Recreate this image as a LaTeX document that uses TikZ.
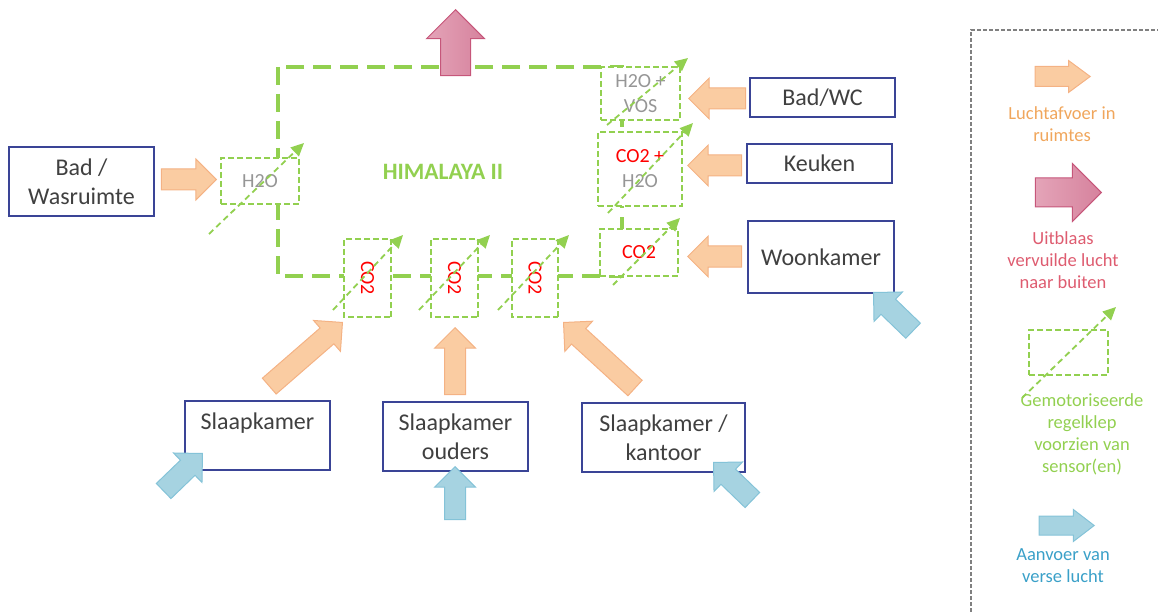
\documentclass[tikz,border=0pt]{standalone}
\usepackage{fontspec}
\setmainfont{Carlito}
\usetikzlibrary{shapes.arrows,arrows.meta}
\definecolor{groen}{RGB}{146,208,80}
\definecolor{kader}{RGB}{58,68,150}
\definecolor{tekst}{RGB}{64,64,64}
\definecolor{grijs}{RGB}{150,150,150}
\definecolor{oranje}{RGB}{250,204,162}
\definecolor{oranjerand}{RGB}{244,178,132}
\definecolor{rozelicht}{RGB}{228,164,184}
\definecolor{roze}{RGB}{214,130,157}
\definecolor{rozerand}{RGB}{198,86,122}
\definecolor{blauw}{RGB}{166,211,225}
\definecolor{blauwrand}{RGB}{132,195,216}
\definecolor{oranjetekst}{RGB}{240,166,92}
\definecolor{rozetekst}{RGB}{222,92,112}
\definecolor{blauwtekst}{RGB}{58,160,200}
\tikzset{room/.style = {draw=kader, line width=1.2pt, fill=white, text=tekst, align=center, inner sep=0, font=\fontsize{24}{29}\selectfont}}
\tikzset{valve/.style = {draw=groen, line width=1.5pt, dash pattern=on 6pt off 3pt, fill=white, align=center, inner sep=0, font=\fontsize{20}{25}\selectfont}}
\tikzset{klep/.style = {draw=groen, line width=1.8pt, dash pattern=on 6pt off 4pt, -{Triangle[length=13pt,width=12pt]}}}
\tikzset{blok/.style = {single arrow, anchor=tip, inner xsep=0, inner ysep=10, single arrow head extend=10, line width=1pt}}
\tikzset{afvoer/.style = {blok, draw=oranjerand, fill=oranje}}
\tikzset{uitblaas/.style = {blok, draw=rozerand, left color=rozelicht, right color=roze}}
\tikzset{aanvoer/.style = {blok, draw=blauwrand, fill=blauw}}
\tikzset{legtxt/.style = {align=center, font=\fontsize{18.5}{22}\selectfont}}
\begin{document}
\begin{tikzpicture}[x=1pt, y=-1pt]
  \useasboundingbox (0,0) rectangle (1158,612);
  \draw [draw=groen, line width=4.5pt, dash pattern=on 18pt off 9pt] (278,67) rectangle (622,276);
  \node [text=groen, font=\fontsize{23.5}{28}\selectfont\bfseries] (naam) at (443,172) {HIMALAYA II};
  \node [valve, minimum width=78, minimum height=46, text=grijs] (vBadWas) at (260,181) {H2O};
  \node [valve, minimum width=79, minimum height=53, text=grijs] (vBadWC) at (640.5,93.5) {H2O +\\VOS};
  \node [valve, minimum width=84, minimum height=74] (vKeuken) at (640,169) {\textcolor{red}{CO2 +}\\\textcolor{grijs}{H2O}};
  \node [valve, minimum width=78, minimum height=47, text=red] (vWoon) at (639,252.5) {CO2};
  \node [valve, rotate=-90, minimum width=78, minimum height=47, text=red] (vS1) at (367.5,278) {CO2};
  \node [valve, rotate=-90, minimum width=78, minimum height=47, text=red] (vS2) at (454.5,278) {CO2};
  \node [valve, rotate=-90, minimum width=78, minimum height=46, text=red] (vS3) at (535,278) {CO2};
  \node [uitblaas, minimum height=66, inner ysep=14.5, single arrow head extend=14, rotate=90] (pUit) at (455.5,9) {};
  \node [room, minimum width=145, minimum height=69] (rBadWas) at (81.5,181.5) {Bad /\\Wasruimte};
  \node [room, minimum width=145, minimum height=39] (rBadWC) at (822.5,97.5) {Bad/WC};
  \node [room, minimum width=145, minimum height=39] (rKeuken) at (819.5,163.5) {Keuken};
  \node [room, minimum width=146, minimum height=72] (rWoon) at (821,257) {Woonkamer};
  \node [room, minimum width=145, minimum height=69] (rS1) at (257.5,435.5) {Slaapkamer\\~};
  \node [room, minimum width=145, minimum height=69] (rS2) at (455.5,436.5) {Slaapkamer\\ouders};
  \node [room, minimum width=163, minimum height=69] (rS3) at (663.5,437.5) {Slaapkamer /\\kantoor};
  \node [afvoer, minimum height=55] (pBadWas) at (217,179.5) {};
  \node [afvoer, minimum height=57, rotate=180] (pBadWC) at (688,98.5) {};
  \node [afvoer, minimum height=54, rotate=180] (pKeuken) at (687,165.5) {};
  \node [afvoer, minimum height=54, rotate=180] (pWoon) at (687,256.5) {};
  \node [afvoer, minimum height=97, rotate=41] (pS1) at (343,322) {};
  \node [afvoer, minimum height=67, rotate=90] (pS2) at (455,327) {};
  \node [afvoer, minimum height=97, rotate=137.5] (pS3) at (563,322) {};
  \node [aanvoer, minimum height=54, rotate=44] (bS1) at (203,453) {};
  \node [aanvoer, minimum height=53, rotate=90] (bS2) at (455,466) {};
  \node [aanvoer, minimum height=54, rotate=136] (bS3) at (713,462) {};
  \node [aanvoer, minimum height=55, rotate=136] (bWoon) at (873,292) {};
  \draw [klep] (209,234) -- (304,143);
  \draw [klep] (607,125) -- (688,58);
  \draw [klep] (608,213) -- (693,123);
  \draw [klep] (613,285) -- (680,218);
  \draw [klep] (333,310) -- (403,235);
  \draw [klep] (419,310) -- (490,235);
  \draw [klep] (498,310) -- (569,235);
  \draw [draw=gray, line width=1.3pt, dash pattern=on 4pt off 2pt] (971,612) -- (971,30) -- (1158,30);
  \node [afvoer, minimum height=55, inner ysep=9.5, single arrow head extend=6, single arrow tip angle=73] (lAfvoer) at (1091,76.5) {};
  \node [legtxt, text=oranjetekst] (tAfvoer) at (1062,124) {Luchtafvoer in\\ruimtes};
  \node [uitblaas, minimum height=66, inner ysep=14, single arrow head extend=14.5] (lUit) at (1102,192.5) {};
  \node [legtxt, text=rozetekst] (tUit) at (1063,260) {Uitblaas\\vervuilde lucht\\naar buiten};
  \node [valve, minimum width=79, minimum height=45] (lKlep) at (1068.5,352.5) {};
  \draw [klep] (1022,398) -- (1116,307);
  \node [legtxt, text=groen] (tKlep) at (1082,434) {Gemotoriseerde\\regelklep\\voorzien van\\sensor(en)};
  \node [aanvoer, minimum height=55, inner ysep=9, single arrow head extend=6.5, single arrow tip angle=75] (lAanvoer) at (1095,525.5) {};
  \node [legtxt, text=blauwtekst] (tAanvoer) at (1063,565.5) {Aanvoer van\\verse lucht};
\end{tikzpicture}
\end{document}
